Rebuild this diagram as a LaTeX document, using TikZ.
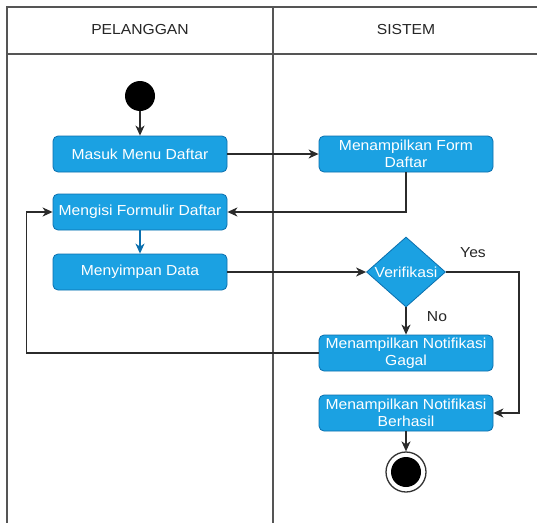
\documentclass[tikz,border=0pt]{standalone}
\usepackage{fontspec}
\setmainfont{Liberation Sans}[FakeStretch=1.08]
\usetikzlibrary{shapes.geometric,arrows.meta}

\definecolor{actfill}{HTML}{1BA1E2}
\definecolor{actline}{HTML}{0A6FAE}
\definecolor{lanegray}{HTML}{555555}
\definecolor{flowgray}{HTML}{2B2B2B}

\begin{document}
\begin{tikzpicture}[x=1pt,y=-1pt,
  basefont/.style={font=\fontsize{14.5}{17}\selectfont},
  act/.style={rectangle, rounded corners=5pt, fill=actfill, draw=actline,
    line width=0.8pt, text=white, minimum width=174pt, minimum height=36pt,
    inner sep=1pt, align=center, basefont},
  decide/.style={diamond, fill=actfill, draw=actline, line width=0.8pt,
    minimum width=79pt, minimum height=70pt, inner sep=0pt},
  lane/.style={draw=lanegray, line width=1.5pt},
  flow/.style={draw=flowgray, line width=1.3pt,
    -{Stealth[length=10pt,width=9pt,inset=3pt]}},
  blueflow/.style={flow, draw=actline, -{Stealth[length=10pt,width=9pt,inset=3pt,fill=actline]}},
  lbl/.style={basefont, text=black!85, inner sep=0pt}
]
\useasboundingbox (0,0) rectangle (537,522);
\clip (0,0) rectangle (537,522);
\fill[white] (0,0) rectangle (537,522);

% swimlane frame
\draw[lane] (7,540) -- (7,7) -- (550,7);
\draw[lane] (7,54) -- (550,54);
\draw[lane] (273,7) -- (273,540);
\node[lbl] (hpel) at (140,30) {PELANGGAN};
\node[lbl] (hsis) at (406,30) {SISTEM};

% start and end
\node[circle, fill=black, minimum size=30pt, inner sep=0pt] (start) at (140,96) {};
\node[circle, fill=white, draw=black!80, line width=1.3pt, minimum size=40pt, inner sep=0pt] (finish) at (406,472) {};
\node[circle, fill=black, minimum size=30pt, inner sep=0pt] (finishdot) at (406,472) {};

% activities
\node[act] (masuk) at (140,154) {Masuk Menu Daftar};
\node[act] (isi) at (140,212) {Mengisi Formulir Daftar};
\node[act] (simpan) at (140,272) {Menyimpan Data};
\node[act] (form) at (406,154) {Menampilkan Form\\Daftar};
\node[decide] (ver) at (406,272) {};
\node[basefont, text=white, inner sep=0pt] (vertext) at (406,272) {Verifikasi};
\node[act] (gagal) at (406,353) {Menampilkan Notifikasi\\Gagal};
\node[act] (berhasil) at (406,413) {Menampilkan Notifikasi\\Berhasil};

% guard labels
\node[lbl] (yes) at (473,253) {Yes};
\node[lbl] (no) at (437,317) {No};

% connectors
\draw[flow] (start) -- (masuk);
\draw[flow] (masuk) -- (form);
\draw[flow] (form.south) |- (isi.east);
\draw[blueflow] (isi) -- (simpan);
\draw[flow] (simpan) -- (ver.west);
\draw[flow] (ver.south) -- (gagal.north);
\draw[flow] (ver.east) -- ++(73,0) |- (berhasil.east);
\draw[flow] (gagal.west) -- ++(-292,0) |- (isi.west);
\draw[flow] (berhasil) -- (finish);
\end{tikzpicture}
\end{document}
